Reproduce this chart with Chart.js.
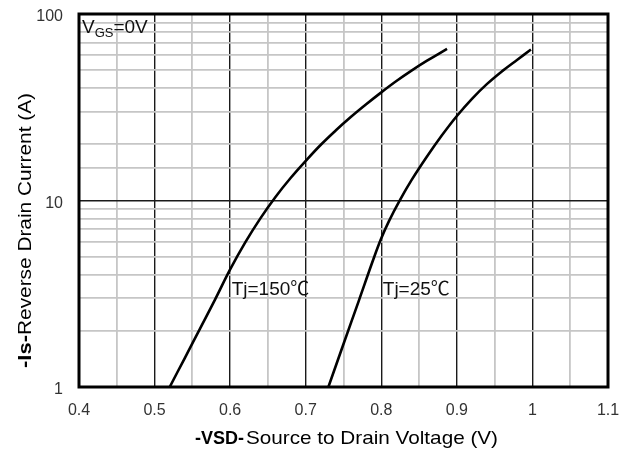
<!DOCTYPE html>
<html>
<head>
<meta charset="utf-8">
<title>Reverse Drain Current vs Source to Drain Voltage</title>
<script src="https://cdn.jsdelivr.net/npm/chart.js@4.4.1/dist/chart.umd.min.js"></script>
<style>
  html, body { margin: 0; padding: 0; background: #ffffff; }
  #wrap { width: 630px; height: 451px; }
</style>
</head>
<body>
<div id="wrap"><canvas id="c" width="630" height="451"></canvas></div>
<script>
// Body-diode forward characteristic, two junction temperatures
const vsd150 = [0.52, 0.54, 0.56, 0.58, 0.60, 0.62, 0.64, 0.66, 0.68, 0.70,
                0.72, 0.74, 0.76, 0.78, 0.80, 0.82, 0.84, 0.86, 0.887];
const is150  = [1.0, 1.43, 2.05, 2.94, 4.27, 5.96, 8.02, 10.45, 13.2, 16.3,
                19.9, 23.8, 28.1, 32.8, 38.0, 43.7, 49.7, 56.0, 65.0];

const vsd25 = [0.73, 0.75, 0.77, 0.79, 0.80, 0.81, 0.825, 0.84, 0.86, 0.88,
               0.90, 0.92, 0.94, 0.96, 0.98, 0.998];
const is25  = [1.0, 1.70, 2.88, 4.90, 6.27, 7.73, 10.1, 12.85, 17.1, 22.3,
               28.4, 35.1, 42.2, 49.4, 56.9, 64.5];

const xTickLabels = ['0.4', '0.5', '0.6', '0.7', '0.8', '0.9', '1', '1.1'];
const yTickLabels = ['1', '10', '100'];
const curveLabels = ['Tj=150\u2103', 'Tj=25\u2103'];

// where each curve name sits (data coordinates, left edge / baseline)
const curveLabelAnchors = [{ x: 0.602, y: 3.11 }, { x: 0.802, y: 3.11 }];

const FONT = "'Liberation Sans', Arial, 'Noto Sans CJK SC', sans-serif";

const isMajorX = v => Math.round(v * 100) % 10 === 0;
const isMajorY = v => [1, 10, 100].some(m => Math.abs(v - m) < 1e-9);

// heavy frame around the plotting area
const framePlugin = {
  id: 'frame',
  afterDatasetsDraw(chart) {
    const { ctx, chartArea: a } = chart;
    ctx.save();
    ctx.strokeStyle = '#000';
    ctx.lineWidth = 3;
    ctx.strokeRect(a.left, a.top, a.right - a.left, a.bottom - a.top);
    ctx.restore();
  }
};

// text drawn over the chart: condition note, curve names, axis titles
const textPlugin = {
  id: 'texts',
  afterDraw(chart) {
    const { ctx, chartArea: a, scales } = chart;
    ctx.save();
    ctx.fillStyle = '#111';
    ctx.textAlign = 'left';
    ctx.textBaseline = 'alphabetic';

    // V_GS = 0V with subscript
    let x = a.left + 3, base = a.top + 19;
    ctx.font = '19px ' + FONT;
    ctx.fillText('V', x, base);
    x += ctx.measureText('V').width;
    ctx.font = '13px ' + FONT;
    ctx.fillText('GS', x, base + 4);
    x += ctx.measureText('GS').width;
    ctx.font = '19px ' + FONT;
    ctx.fillText('=0V', x, base);

    // curve names
    ctx.font = '19px ' + FONT;
    curveLabels.forEach((t, i) => {
      const p = curveLabelAnchors[i];
      ctx.fillText(t, scales.x.getPixelForValue(p.x), scales.y.getPixelForValue(p.y));
    });

    // x axis title: bold symbol + stretched description
    ctx.fillStyle = '#000';
    const xb = '-VSD-', xn = 'Source to Drain Voltage (V)';
    ctx.font = 'bold 18px ' + FONT;
    ctx.fillText(xb, 195, 444);
    ctx.font = '19px ' + FONT;
    const wn = ctx.measureText(xn).width;
    ctx.save();
    ctx.translate(246, 444);
    ctx.scale(252 / wn, 1);
    ctx.fillText(xn, 0, 0);
    ctx.restore();

    // y axis title, rotated
    const yb = '-Is-', yn = 'Reverse Drain Current (A)';
    ctx.save();
    ctx.translate(31, 368);
    ctx.rotate(-Math.PI / 2);
    ctx.font = 'bold 18px ' + FONT;
    const ywb = ctx.measureText(yb).width;
    ctx.save();
    ctx.scale(33 / ywb, 1);
    ctx.fillText(yb, 0, 0);
    ctx.restore();
    ctx.font = '18px ' + FONT;
    const ywn = ctx.measureText(yn).width;
    ctx.translate(33, 0);
    ctx.scale(242 / ywn, 1);
    ctx.fillText(yn, 0, 0);
    ctx.restore();

    ctx.restore();
  }
};

const toPoints = (xs, ys) => xs.map((v, i) => ({ x: v, y: ys[i] }));

const curveStyle = {
  borderColor: '#000',
  borderWidth: 2.6,
  pointRadius: 0,
  fill: false,
  tension: 0.4
};

new Chart(document.getElementById('c'), {
  type: 'line',
  data: {
    datasets: [
      Object.assign({ label: curveLabels[0], data: toPoints(vsd150, is150) }, curveStyle),
      Object.assign({ label: curveLabels[1], data: toPoints(vsd25, is25) }, curveStyle)
    ]
  },
  options: {
    responsive: false,
    animation: false,
    devicePixelRatio: 1,
    layout: { padding: { top: 14, right: 22, left: 0, bottom: 0 } },
    plugins: { legend: { display: false }, tooltip: { enabled: false } },
    scales: {
      x: {
        type: 'linear',
        min: 0.4,
        max: 1.1,
        afterFit: s => { s.height = 64; s.paddingLeft = 0; s.paddingRight = 0; },
        border: { display: false },
        grid: {
          drawTicks: false,
          color: c => isMajorX(c.tick.value) ? '#1a1a1a' : '#c6c6c6',
          lineWidth: c => isMajorX(c.tick.value) ? 1.4 : 1.8
        },
        ticks: {
          stepSize: 0.05,
          autoSkip: false,
          maxRotation: 0,
          padding: 14,
          color: '#333',
          font: { family: FONT, size: 16 },
          callback: v => xTickLabels.find(t => Math.abs(parseFloat(t) - v) < 1e-6) || ''
        }
      },
      y: {
        type: 'logarithmic',
        min: 1,
        max: 100,
        afterFit: s => { s.width = 79; s.paddingTop = 0; s.paddingBottom = 0; },
        border: { display: false },
        grid: {
          drawTicks: false,
          color: c => isMajorY(c.tick.value) ? '#1a1a1a' : '#c6c6c6',
          lineWidth: c => isMajorY(c.tick.value) ? 1.4 : 1.8
        },
        ticks: {
          autoSkip: false,
          padding: 16,
          labelOffset: 3,
          color: '#333',
          font: { family: FONT, size: 16 },
          callback: v => yTickLabels.find(t => Math.abs(parseFloat(t) - v) < 1e-9) || ''
        }
      }
    }
  },
  plugins: [framePlugin, textPlugin]
});
</script>
</body>
</html>
